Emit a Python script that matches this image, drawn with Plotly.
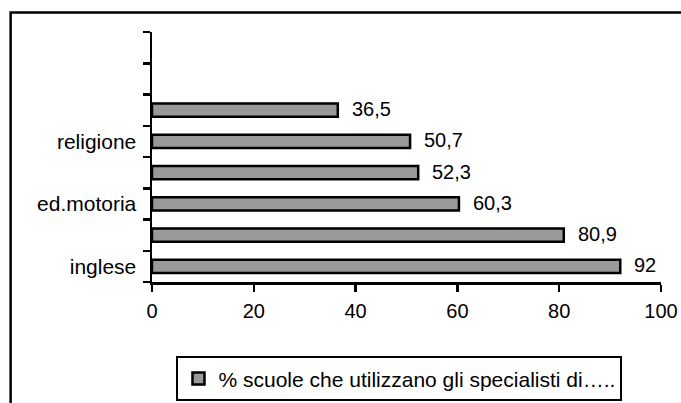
import plotly.graph_objects as go

# Data (bottom to top)
categories = ["inglese", "", "ed.motoria", "", "religione", "", "", ""]
values = [92, 80.9, 60.3, 52.3, 50.7, 36.5, None, None]
value_labels = ["92", "80,9", "60,3", "52,3", "50,7", "36,5", "", ""]
series_name = "% scuole che utilizzano gli specialisti di….."
x_ticks = [0, 20, 40, 60, 80, 100]

W, H = 681, 403
L, R, T, B = 151.5, 20, 31.7, 121.3
pw = W - L - R
ph = H - T - B

def px_x(p):
    return (p - L) / pw

def px_y(p):
    return (H - B - p) / ph

positions = list(range(1, len(categories) + 1))
FAM = "Liberation Sans, Arial, sans-serif"
FONT_NUM = dict(family=FAM, size=20, color="black")
FONT_TXT = dict(family=FAM, size=21, color="black")

fig = go.Figure()
fig.add_trace(go.Bar(
    x=values, y=positions, orientation="h", width=0.42,
    name=series_name, showlegend=True,
    marker=dict(color="#999999", line=dict(color="black", width=2.5)),
    hoverinfo="skip",
))

for pos, v, t in zip(positions, values, value_labels):
    if v is None:
        continue
    fig.add_annotation(x=v, y=pos, xref="x", yref="y", text=t, showarrow=False,
                       xanchor="left", yanchor="middle", xshift=12, yshift=1, font=FONT_NUM)

fig.update_layout(
    width=W, height=H, margin=dict(l=L, r=R, t=T, b=B, autoexpand=False),
    paper_bgcolor="white", plot_bgcolor="white", font=FONT_NUM,
    xaxis=dict(range=[0, 100], tickvals=x_ticks, ticktext=[str(v) for v in x_ticks],
               showgrid=False, zeroline=False, showline=True, linecolor="black", linewidth=2.5,
               ticks="outside", ticklen=7, tickwidth=2.5, tickcolor="black",
               ticklabelstandoff=2, tickfont=FONT_NUM, fixedrange=True),
    yaxis=dict(range=[0.5, len(categories) + 0.5], tickvals=positions, ticktext=categories,
               showgrid=False, zeroline=False, showline=True, linecolor="black", linewidth=2.5,
               ticks="", ticklabelstandoff=9, tickfont=FONT_TXT, fixedrange=True,
               minor=dict(tickvals=[p - 0.5 for p in positions] + [len(categories) + 0.5],
                          ticks="outside", ticklen=7, tickwidth=2.5, tickcolor="black",
                          showgrid=False)),
    legend=dict(orientation="h", x=px_x(176), y=px_y(401), xanchor="left", yanchor="bottom",
                bordercolor="black", borderwidth=2, bgcolor="white", font=FONT_TXT,
                itemwidth=30),
    shapes=[dict(type="rect", xref="paper", yref="paper",
                 x0=px_x(10), x1=px_x(W + 5), y0=px_y(H + 5), y1=px_y(12.3),
                 line=dict(color="black", width=2.5), layer="below")],
)

fig.write_html("out.html", config={"displayModeBar": False, "staticPlot": True},
               post_script="document.body.style.margin='0';document.body.style.overflow='hidden';")
